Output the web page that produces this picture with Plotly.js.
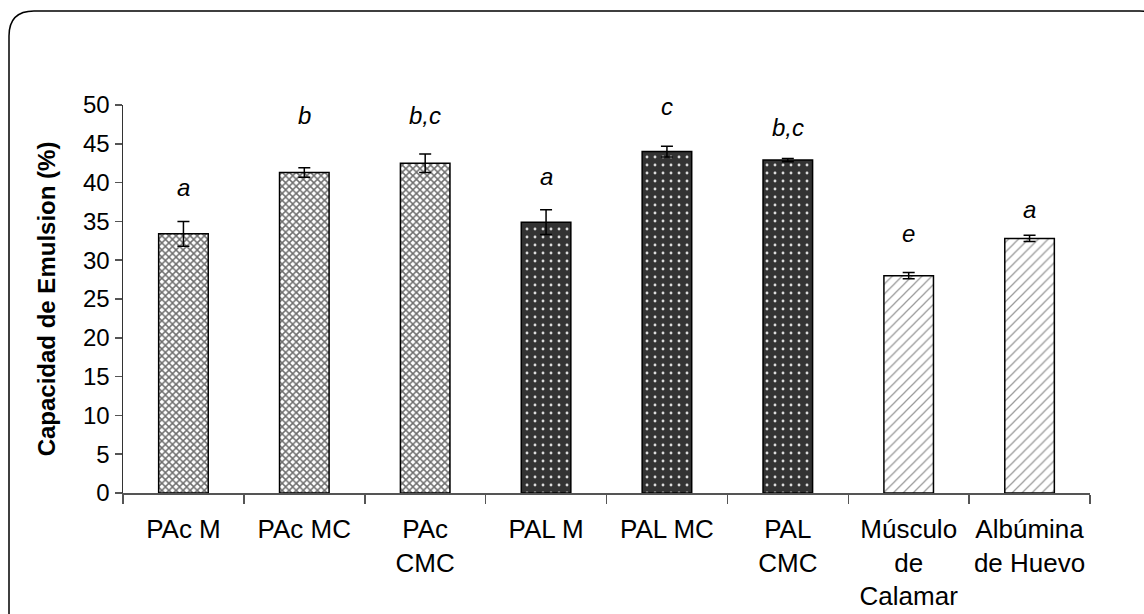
<!DOCTYPE html>
<html>
<head>
<meta charset="utf-8">
<script src="https://cdn.plot.ly/plotly-3.0.1.min.js"></script>
<style>html,body{margin:0;padding:0;background:#fff;}#chart{width:1144px;height:614px;}</style>
</head>
<body>
<div id="chart"></div>
<script>
// ---- data ----
var categories = ["PAc M", "PAc MC", "PAc<br>CMC", "PAL M", "PAL MC", "PAL<br>CMC", "Músculo<br>de<br>Calamar", "Albúmina<br>de Huevo"];
var values = [33.4, 41.3, 42.5, 34.9, 44.0, 42.9, 28.0, 32.8];
var errors = [1.6, 0.6, 1.2, 1.6, 0.7, 0.2, 0.4, 0.4];
var letters = ["a", "b", "b,c", "a", "c", "b,c", "e", "a"];
var letterY = [39.4, 48.6, 48.6, 40.8, 49.8, 47.1, 33.5, 36.5];
var groups = ["PAc", "PAc", "PAc", "PAL", "PAL", "PAL", "ref", "ref"];

// ---- styles ----
var styleMap = {
  PAc: {shape: "x", bg: "#ffffff", fg: "#6e6e6e", size: 5, sol: 0.5},
  PAL: {shape: ".", bg: "#333333", fg: "#dcdcdc", size: 8, sol: 0.1},
  ref: {shape: "/", bg: "#ffffff", fg: "#9a9a9a", size: 7, sol: 0.18}
};
var font = "Arial, 'Liberation Sans', sans-serif";

var W = 1144, H = 614;
var L = 123, R = 1090, T = 105, B = 493;
function px2paperX(px) { return (px - L) / (R - L); }
function px2paperY(py) { return (B - py) / (B - T); }
function roundRectPath(x0, y0, x1, y1, r) {
  var P = function (x, y) { return px2paperX(x) + "," + px2paperY(y); };
  return "M" + P(x0 + r, y0) + " L" + P(x1 - r, y0) + " Q" + P(x1, y0) + " " + P(x1, y0 + r) +
    " L" + P(x1, y1 - r) + " Q" + P(x1, y1) + " " + P(x1 - r, y1) +
    " L" + P(x0 + r, y1) + " Q" + P(x0, y1) + " " + P(x0, y1 - r) +
    " L" + P(x0, y0 + r) + " Q" + P(x0, y0) + " " + P(x0 + r, y0) + " Z";
}

var traces = ["PAc", "PAL", "ref"].map(function (g) {
  var idx = [];
  groups.forEach(function (gg, i) { if (gg === g) idx.push(i); });
  var s = styleMap[g];
  return {
    type: "bar",
    x: idx.map(function (i) { return categories[i]; }),
    y: idx.map(function (i) { return values[i]; }),
    width: 0.41,
    marker: {
      color: s.bg,
      line: {color: "#000000", width: 1.5},
      pattern: {shape: s.shape, bgcolor: s.bg, fgcolor: s.fg, size: s.size, solidity: s.sol, fillmode: "replace"}
    },
    error_y: {type: "data", array: idx.map(function (i) { return errors[i]; }), visible: true, color: "#000000", thickness: 1.5, width: 6},
    hoverinfo: "none"
  };
});

var annotations = categories.map(function (c, i) {
  return {
    x: c, y: letterY[i], xref: "x", yref: "y",
    text: "<i>" + letters[i] + "</i>",
    showarrow: false,
    font: {family: font, size: 24, color: "#000"}
  };
});

var layout = {
  width: W, height: H,
  margin: {l: L, r: W - R, t: T, b: H - B},
  paper_bgcolor: "#ffffff",
  plot_bgcolor: "#ffffff",
  showlegend: false,
  barmode: "overlay",
  font: {family: font, size: 24, color: "#000"},
  xaxis: {
    type: "category",
    categoryorder: "array", categoryarray: categories,
    range: [-0.5, 7.5],
    showline: true, linecolor: "#555555", linewidth: 1.5,
    ticks: "outside", tickson: "boundaries", ticklen: 9, tickcolor: "#555555", tickwidth: 1.5,
    ticklabelstandoff: 12,
    showgrid: false, zeroline: false,
    tickfont: {family: font, size: 26, color: "#000"},
    tickangle: 0
  },
  yaxis: {
    range: [0, 50],
    tickvals: [0, 5, 10, 15, 20, 25, 30, 35, 40, 45, 50],
    showline: true, linecolor: "#333333", linewidth: 1.5,
    ticks: "outside", ticklen: 7, tickcolor: "#555555", tickwidth: 1.5,
    showgrid: false, zeroline: false,
    tickfont: {family: font, size: 24, color: "#000"},
    title: {text: "<b>Capacidad de Emulsion (%)</b>", font: {family: font, size: 24, color: "#000"}, standoff: 20}
  },
  shapes: [{
    type: "path", xref: "paper", yref: "paper",
    path: roundRectPath(9, 11, 1165, 640, 25),
    line: {color: "#000000", width: 1.5},
    fillcolor: "rgba(0,0,0,0)",
    layer: "below"
  }],
  annotations: annotations
};

Plotly.newPlot("chart", traces, layout, {displayModeBar: false, staticPlot: true});
</script>
</body>
</html>
